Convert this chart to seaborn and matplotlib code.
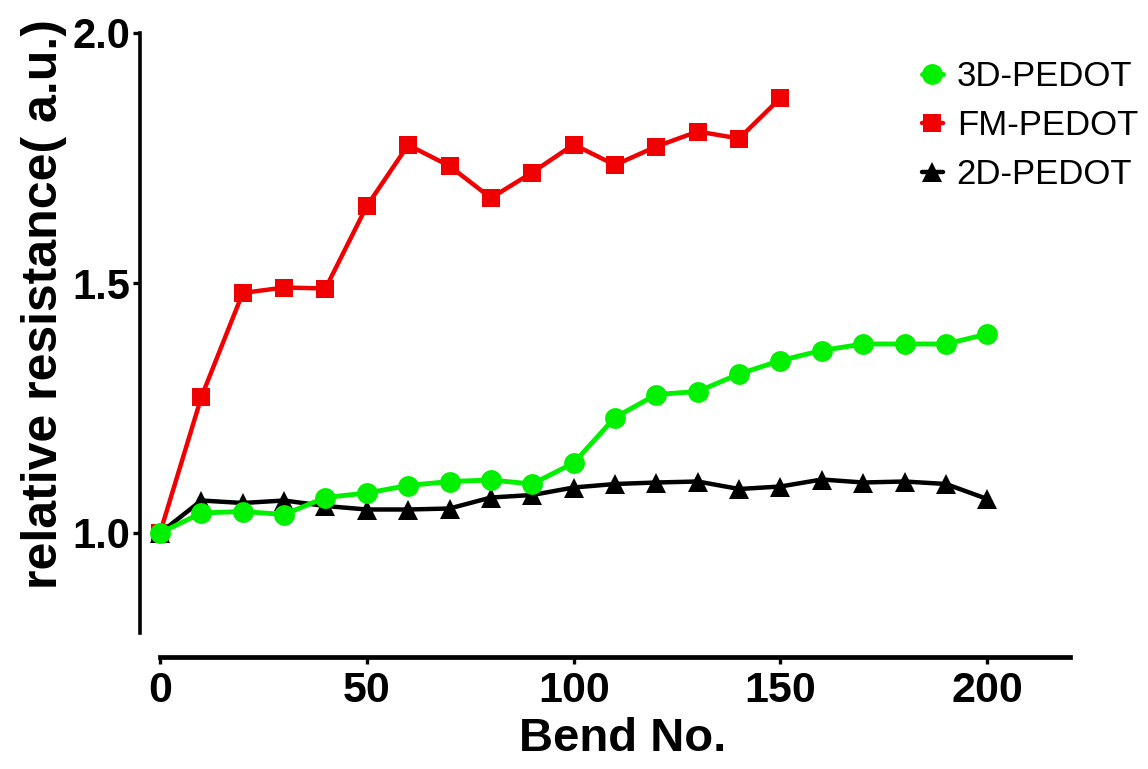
import matplotlib
matplotlib.use("Agg")
import matplotlib.pyplot as plt
import seaborn as sns
import numpy as np
import pandas as pd

# ---- data ----
bends_3d = [0, 10, 20, 30, 40, 50, 60, 70, 80, 90, 100, 110, 120, 130, 140, 150, 160, 170, 180, 190, 200]
res_3d = [1.0, 1.040, 1.043, 1.037, 1.071, 1.080, 1.095, 1.103, 1.106, 1.098, 1.140,
          1.231, 1.277, 1.283, 1.318, 1.345, 1.365, 1.378, 1.378, 1.378, 1.398]
bends_fm = [0, 10, 20, 30, 40, 50, 60, 70, 80, 90, 100, 110, 120, 130, 140, 150]
res_fm = [1.0, 1.272, 1.480, 1.491, 1.489, 1.654, 1.776, 1.734, 1.670, 1.721, 1.777,
          1.736, 1.773, 1.803, 1.789, 1.870]
bends_2d = [0, 10, 20, 30, 40, 50, 60, 70, 80, 90, 100, 110, 120, 130, 140, 150, 160, 170, 180, 190, 200]
res_2d = [1.0, 1.065, 1.060, 1.065, 1.054, 1.047, 1.047, 1.049, 1.071, 1.076, 1.091,
          1.098, 1.101, 1.103, 1.088, 1.093, 1.107, 1.101, 1.103, 1.098, 1.068]
x_ticks = [0, 50, 100, 150, 200]
y_ticks = [1.0, 1.5, 2.0]

sns.set_style("ticks")
plt.rcParams['font.family'] = ['Liberation Sans', 'DejaVu Sans']
plt.rcParams['text.color'] = 'black'
plt.rcParams['axes.labelcolor'] = 'black'
plt.rcParams['xtick.color'] = 'black'
plt.rcParams['ytick.color'] = 'black'
plt.rcParams['axes.edgecolor'] = 'black'

fig = plt.figure(figsize=(11.48, 7.69), dpi=100)
ax = fig.add_axes([140/1148, 1 - 633/769, 930/1148, 600/769])

GREEN = "#00f000"
RED = "#f00000"
BLACK = "#000000"

sns.lineplot(x=bends_fm, y=res_fm, ax=ax, color=RED, marker="s", markersize=13.5,
             markeredgecolor=RED, markeredgewidth=0, linewidth=3.2, label="FM-PEDOT",
             zorder=3, clip_on=False)
sns.lineplot(x=bends_2d, y=res_2d, ax=ax, color=BLACK, marker="^", markersize=14,
             markeredgecolor=BLACK, markeredgewidth=0, linewidth=3.2, label="2D-PEDOT",
             zorder=4, clip_on=False)
sns.lineplot(x=bends_3d, y=res_3d, ax=ax, color=GREEN, marker="o", markersize=15,
             markeredgecolor=GREEN, markeredgewidth=0, linewidth=3.5, label="3D-PEDOT",
             zorder=5, clip_on=False)

ax.set_xlim(-4.84, 220)
ax.set_ylim(0.8, 2.0)
ax.set_xticks(x_ticks)
ax.set_yticks(y_ticks)
ax.set_xticklabels([str(v) for v in x_ticks])
ax.set_yticklabels([f"{v:.1f}" for v in y_ticks])

for s in ["top", "right"]:
    ax.spines[s].set_visible(False)
ax.spines["left"].set_linewidth(2.6)
ax.spines["bottom"].set_linewidth(3.4)
ax.spines["bottom"].set_position(("outward", 17))
ax.spines["bottom"].set_bounds(0, 220)
ax.spines["left"].set_bounds(0.8, 2.0)

ax.tick_params(axis="y", direction="out", length=5, width=2.4, pad=2,
               labelsize=30)
ax.tick_params(axis="x", direction="out", length=5, width=2.4, pad=5,
               labelsize=31)
for lab in ax.get_xticklabels() + ax.get_yticklabels():
    lab.set_fontweight("bold")

ax.set_xlabel("Bend No.", fontsize=34, fontweight="bold")
ax.set_ylabel("relative resistance( a.u.)", fontsize=36, fontweight="bold")
ax.xaxis.set_label_coords(0.519, -0.140)
ax.yaxis.set_label_coords(-0.078, 0.548)

handles, labels = ax.get_legend_handles_labels()
order = [labels.index(n) for n in ["3D-PEDOT", "FM-PEDOT", "2D-PEDOT"]]
leg = ax.legend([handles[i] for i in order], [labels[i] for i in order],
                loc="upper left", bbox_to_anchor=(922/1148, 1 - 60/769),
                bbox_transform=fig.transFigure, frameon=False, fontsize=25,
                handlelength=0.6, handletextpad=0.4, labelspacing=0.46,
                borderpad=0, borderaxespad=0)

fig.savefig("out.png", dpi=100)
